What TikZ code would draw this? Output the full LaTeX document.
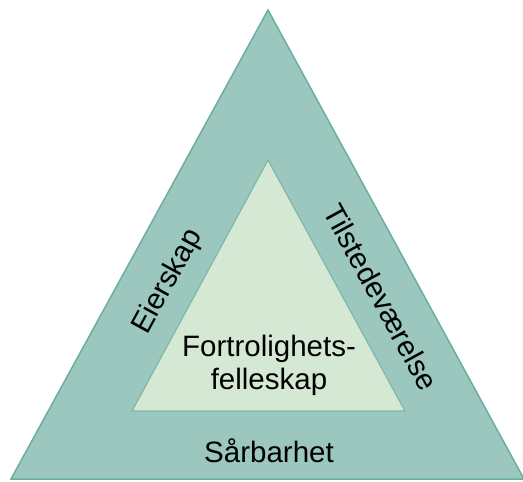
\documentclass[tikz,border=0pt]{standalone}
\usepackage{fontspec}
\setmainfont{Liberation Sans}
\definecolor{outerfill}{HTML}{9BC7BE}
\definecolor{outerline}{HTML}{6BAE9F}
\definecolor{innerfill}{HTML}{D5E8D4}
\definecolor{innerline}{HTML}{7DB8A8}
\begin{document}
\begin{tikzpicture}[x=1pt,y=-1pt,
  lbl/.style={font=\fontsize{29.5}{33}\selectfont, inner sep=0pt, align=center}]
\useasboundingbox (0,0) rectangle (523,482);
% outer triangle
\coordinate (oA) at (268,10);
\coordinate (oL) at (11,479);
\coordinate (oR) at (524,479);
\fill[outerfill, draw=outerline, line width=1.5pt, line join=miter] (oA) -- (oL) -- (oR) -- cycle;
% inner triangle
\coordinate (iA) at (268,160);
\coordinate (iL) at (132,411);
\coordinate (iR) at (405,411);
\fill[innerfill, draw=innerline, line width=1.2pt] (iA) -- (iL) -- (iR) -- cycle;
% labels
\node[lbl] (core) at (269,365) {Fortrolighets-\\felleskap};
\node[lbl] (base) at (269,451) {Sårbarhet};
\node[lbl, rotate=61.3] (left) at (168,282) {Eierskap};
\node[lbl, rotate=-61.3] (right) at (381,297) {Tilstedeværelse};
\end{tikzpicture}
\end{document}
